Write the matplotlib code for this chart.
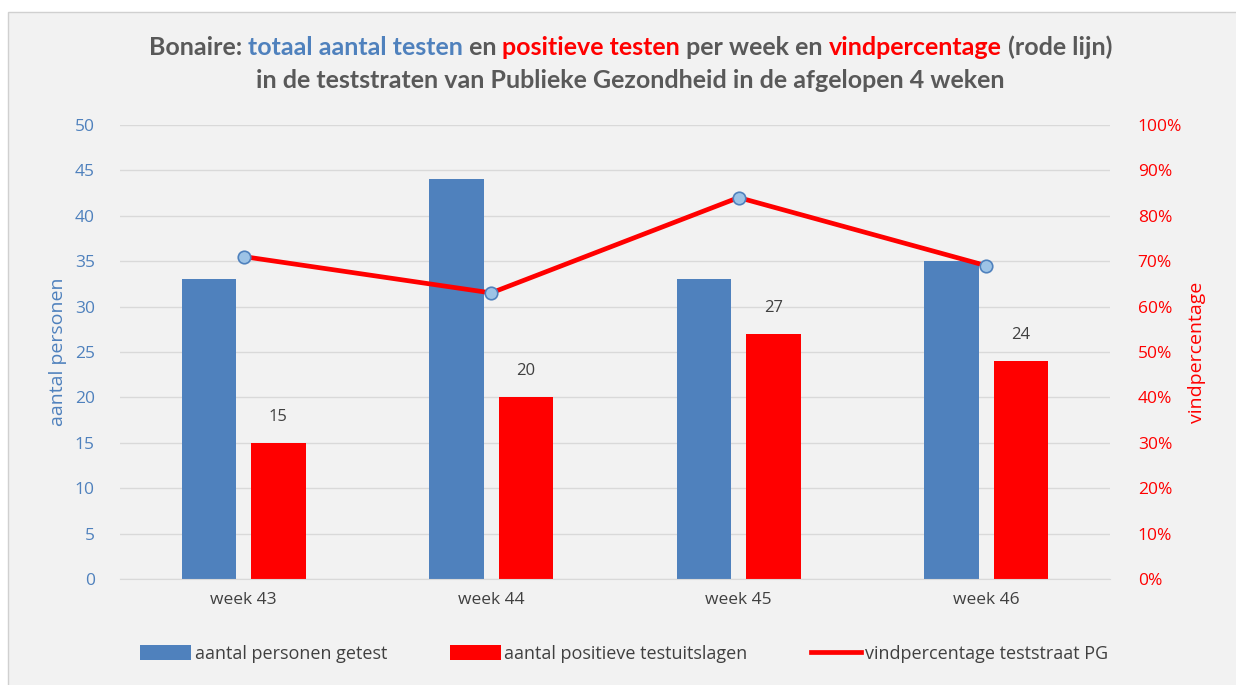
import matplotlib
matplotlib.use("Agg")
import matplotlib.pyplot as plt
import matplotlib.transforms as mtransforms
from matplotlib.patches import Rectangle
from matplotlib.lines import Line2D
import numpy as np

weken = ["week 43", "week 44", "week 45", "week 46"]
getest = [33, 44, 33, 35]
positief = [15, 20, 27, 24]
vindpct = [71, 63, 84, 69]

blauw = "#4f81bd"
rood = "#ff0000"
grijs = "#595959"
achtergrond = "#f2f2f2"

plt.rcParams["font.family"] = ["Open Sans", "DejaVu Sans"]

fig = plt.figure(figsize=(12.36, 6.85), dpi=100)
fig.patch.set_facecolor("white")
W, H = 1236, 685
fig.patches.append(Rectangle((8 / W, -0.01), 1.02, 1 - 12 / H + 0.01, transform=fig.transFigure,
                             facecolor=achtergrond, edgecolor="#d0d0d0", lw=1, zorder=-5))

ax = fig.add_axes([0.097, 0.1547, 0.801, 0.663])
ax.set_facecolor(achtergrond)

x = np.arange(len(weken))
bw = 0.22
ax.bar(x - 0.14, getest, bw, color=blauw, label="aantal personen getest", zorder=2)
ax.bar(x + 0.14, positief, bw, color=rood, label="aantal positieve testuitslagen", zorder=2)
for xi, v in zip(x, positief):
    ax.annotate(str(v), (xi + 0.14, v), xytext=(0, 13), textcoords="offset points",
                ha="center", va="bottom", fontsize=12, color="#404040")

ax.set_xlim(-0.5, 3.5)
ax.set_ylim(0, 50)
ax.set_yticks(range(0, 51, 5))
ax.set_xticks(x)
ax.set_xticklabels(weken, fontsize=12.5, color="#404040")
ax.tick_params(axis="y", length=0, labelcolor=blauw, labelsize=12.5, pad=18)
ax.tick_params(axis="x", length=0, pad=9)
ax.grid(axis="y", color="#d9d9d9", lw=1, zorder=0)
for s in ["top", "right", "left"]:
    ax.spines[s].set_visible(False)
ax.spines["bottom"].set_color("#d9d9d9")
ax.set_ylabel("aantal personen", color=blauw, fontsize=14, labelpad=6)

ax2 = ax.twinx()
ax2.plot(x, vindpct, color=rood, lw=3.4, marker="o", ms=9, mfc="#9dc3e6",
         mec=blauw, mew=1.2, zorder=3)
ax2.set_ylim(0, 100)
ax2.set_yticks(range(0, 101, 10))
ax2.set_yticklabels([f"{v}%" for v in range(0, 101, 10)])
ax2.tick_params(axis="y", length=0, labelcolor=rood, labelsize=12.5, pad=20)
for s in ax2.spines.values():
    s.set_visible(False)
ax2.set_ylabel("vindpercentage", color=rood, fontsize=14, labelpad=4)

h1, l1 = ax.get_legend_handles_labels()
h2 = [Line2D([], [], color=rood, lw=3.4)]
l2 = ["vindpercentage teststraat PG"]
fig.legend(h1 + h2, l1 + l2, loc="center", bbox_to_anchor=(0.505, 0.045), ncol=3,
           frameon=False, fontsize=13, handlelength=2.8, handleheight=0.9,
           columnspacing=3.5, labelcolor="#404040", handletextpad=0.2)

# titel met gekleurde delen
delen = [("Bonaire: ", grijs), ("totaal aantal testen", blauw), (" en ", grijs),
         ("positieve testen", rood), (" per week en ", grijs),
         ("vindpercentage", rood), (" (rode lijn)", grijs)]
r = fig.canvas.get_renderer()
teksten = []
t = fig.transFigure
for s, c in delen:
    tx = fig.text(0, 0.931, s, color=c, fontsize=18, fontweight="bold", transform=t,
                  va="center", ha="left", family=["Lato", "DejaVu Sans"])
    tx.draw(r)
    ex = tx.get_window_extent(r)
    t = mtransforms.offset_copy(tx.get_transform(), fig=fig, x=ex.width, units="dots")
    teksten.append(tx)
breedte = teksten[-1].get_window_extent(r).x1 - teksten[0].get_window_extent(r).x0
start = 0.51 - breedte / 2 / fig.bbox.width
for tx in teksten:
    tx.set_x(start)
fig.text(0.51, 0.883, "in de teststraten van Publieke Gezondheid in de afgelopen 4 weken",
         color=grijs, fontsize=18, fontweight="bold", ha="center", va="center",
         family=["Lato", "DejaVu Sans"])

fig.savefig("out.png", dpi=100, facecolor=fig.get_facecolor())
